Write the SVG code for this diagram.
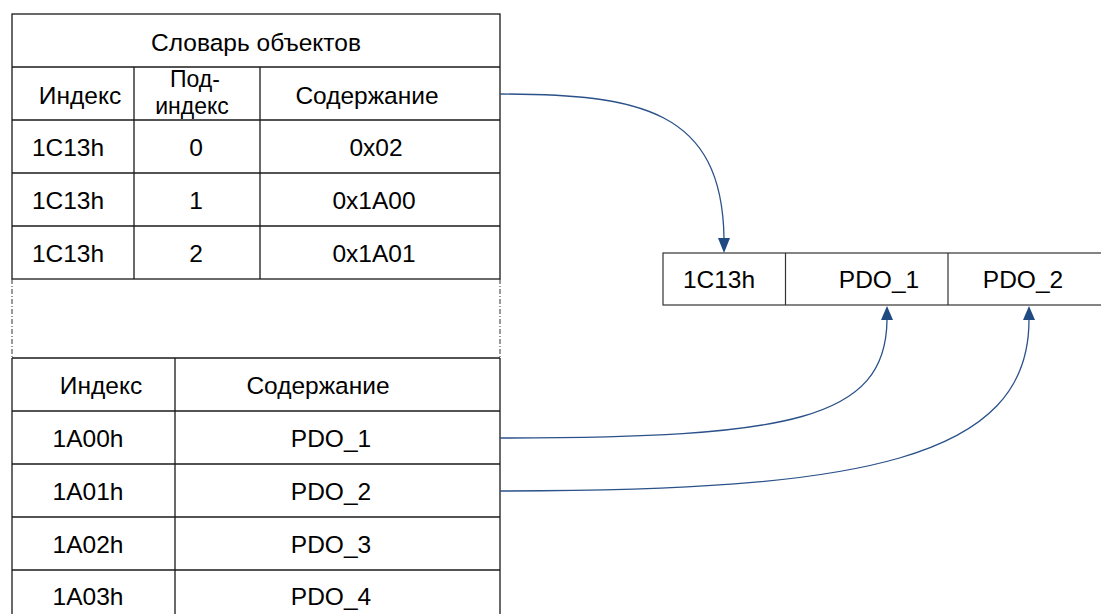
<svg xmlns="http://www.w3.org/2000/svg" width="1101" height="614" viewBox="0 0 1101 614">
<defs>
<style>
.ln{stroke:#1a1a1a;stroke-width:1.3;fill:none}
.bx{stroke:#333;stroke-width:1.2;fill:#fff}
.dd{stroke:#333;stroke-width:1;stroke-dasharray:5 2 1 2;fill:none}
.t{font-family:"Liberation Sans",Arial,sans-serif;font-size:24.5px;fill:#000;text-anchor:middle}
.s{font-size:23px}
.c{stroke:#2a5189;stroke-width:1.3;fill:none}
.ah{fill:#1f4a82}
</style>
</defs>
<rect width="1101" height="614" fill="#fff"/>
<g id="dict-table-top">
<rect class="ln" x="12" y="14" width="488" height="265"/>
<line class="ln" x1="12" y1="67" x2="500" y2="67"/>
<line class="ln" x1="12" y1="120" x2="500" y2="120"/>
<line class="ln" x1="12" y1="173" x2="500" y2="173"/>
<line class="ln" x1="12" y1="226" x2="500" y2="226"/>
<line class="ln" x1="134" y1="67" x2="134" y2="279"/>
<line class="ln" x1="260" y1="67" x2="260" y2="279"/>
<text class="t" x="256" y="51">Словарь объектов</text>
<text class="t" x="80" y="104">Индекс</text>
<text class="t s" x="195" y="87">Под-</text>
<text class="t s" x="192" y="114">индекс</text>
<text class="t" x="367" y="104">Содержание</text>
<text class="t" x="68" y="156">1C13h</text>
<text class="t" x="196" y="156">0</text>
<text class="t" x="376" y="156">0x02</text>
<text class="t" x="68" y="209">1C13h</text>
<text class="t" x="196" y="209">1</text>
<text class="t" x="374" y="209">0x1A00</text>
<text class="t" x="68" y="262">1C13h</text>
<text class="t" x="196" y="262">2</text>
<text class="t" x="374" y="262">0x1A01</text>
</g>
<g id="gap">
<line class="dd" x1="12" y1="279" x2="12" y2="358"/>
<line class="dd" x1="500" y1="279" x2="500" y2="358"/>
</g>
<g id="dict-table-bottom">
<line class="ln" x1="12" y1="358" x2="12" y2="614"/>
<line class="ln" x1="500" y1="358" x2="500" y2="614"/>
<line class="ln" x1="175" y1="358" x2="175" y2="614"/>
<line class="ln" x1="12" y1="358" x2="500" y2="358"/>
<line class="ln" x1="12" y1="411" x2="500" y2="411"/>
<line class="ln" x1="12" y1="464" x2="500" y2="464"/>
<line class="ln" x1="12" y1="517" x2="500" y2="517"/>
<line class="ln" x1="12" y1="570" x2="500" y2="570"/>
<text class="t" x="101" y="394">Индекс</text>
<text class="t" x="318" y="394">Содержание</text>
<text class="t" x="88" y="447">1A00h</text>
<text class="t" x="331" y="447">PDO_1</text>
<text class="t" x="88" y="500">1A01h</text>
<text class="t" x="331" y="500">PDO_2</text>
<text class="t" x="88" y="553">1A02h</text>
<text class="t" x="331" y="553">PDO_3</text>
<text class="t" x="88" y="605">1A03h</text>
<text class="t" x="331" y="605">PDO_4</text>
</g>
<g id="pdo-map">
<rect class="bx" x="663" y="253" width="450" height="52"/>
<line class="bx" x1="785.5" y1="253" x2="785.5" y2="305"/>
<line class="bx" x1="948" y1="253" x2="948" y2="305"/>
<text class="t" x="719" y="288">1C13h</text>
<text class="t" x="879" y="288">PDO_1</text>
<text class="t" x="1023" y="288">PDO_2</text>
</g>
<g id="connectors">
<path class="c" d="M500,94 C640,94 722,110 724,238"/>
<path class="ah" d="M718,238 L730,238 L724,253 Z"/>
<path class="c" d="M500,438 C790,438 886,420 887,320"/>
<path class="ah" d="M881,320 L893,320 L887,306 Z"/>
<path class="c" d="M500,491 C860,491 1029,460 1029,320"/>
<path class="ah" d="M1023,320 L1035,320 L1029,306 Z"/>
</g>
</svg>
